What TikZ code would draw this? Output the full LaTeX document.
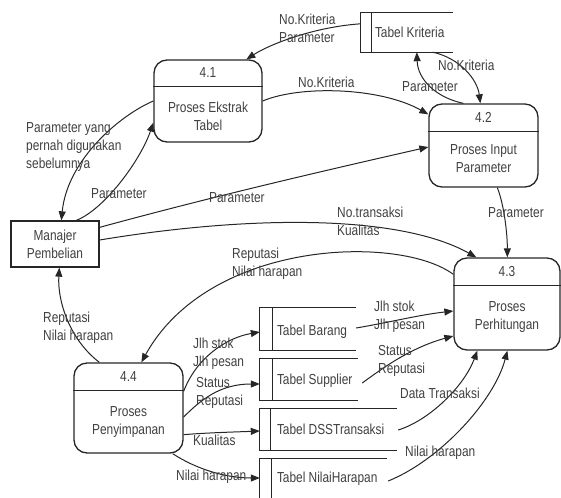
\documentclass[tikz,border=0pt]{standalone}
\usepackage{fontspec}
\newfontfamily\dfdfont[FakeStretch=0.82]{Liberation Sans}
\usetikzlibrary{arrows.meta,calc}
\definecolor{txt}{HTML}{404040}
\definecolor{ln}{HTML}{262626}
\begin{document}
\begin{tikzpicture}[x=1pt,y=-1pt,
  every node/.style={font=\dfdfont\fontsize{14.5}{18}\selectfont, text=txt},
  proc/.style={draw=ln, line width=1.3pt, rounded corners=13pt, inner sep=0pt},
  mgrbox/.style={draw=ln, line width=1.3pt, inner sep=0pt},
  storebox/.style={draw=none, inner sep=0pt},
  stline/.style={draw=ln, line width=1.3pt},
  lbl/.style={inner sep=0pt, align=left, anchor=west},
  ptext/.style={inner sep=0pt, align=center},
  flow/.style={draw=ln, line width=1pt, -{Triangle[length=9pt,width=7pt]}}]
\useasboundingbox (0,0) rectangle (561,497);
\clip (0,0) rectangle (561,497);

% processes
\node[proc, minimum width=108pt, minimum height=82pt] (p41) at (208,101) {};
\draw[stline] ($(p41.north west)+(0,27)$) -- ($(p41.north east)+(0,27)$);
\node[ptext] (p41id) at ($(p41.north)+(0,13)$) {4.1};
\node[ptext] (p41t) at ($(p41.center)+(0,15)$) {Proses Ekstrak\\Tabel};

\node[proc, minimum width=109pt, minimum height=83pt] (p42) at (483.5,145.5) {};
\draw[stline] ($(p42.north west)+(0,28)$) -- ($(p42.north east)+(0,28)$);
\node[ptext] (p42id) at ($(p42.north)+(0,14)$) {4.2};
\node[ptext] (p42t) at ($(p42.center)+(0,13.5)$) {Proses Input\\Parameter};

\node[proc, minimum width=106pt, minimum height=92pt] (p43) at (507,304) {};
\draw[stline] ($(p43.north west)+(0,28)$) -- ($(p43.north east)+(0,28)$);
\node[ptext] (p43id) at ($(p43.north)+(0,14)$) {4.3};
\node[ptext] (p43t) at ($(p43.center)+(0,13)$) {Proses\\Perhitungan};

\node[proc, minimum width=109pt, minimum height=90pt] (p44) at (128.5,408) {};
\draw[stline] ($(p44.north west)+(0,28)$) -- ($(p44.north east)+(0,28)$);
\node[ptext] (p44id) at ($(p44.north)+(0,14)$) {4.4};
\node[ptext] (p44t) at ($(p44.center)+(0,14)$) {Proses\\Penyimpanan};

% external entity
\node[mgrbox, minimum width=88pt, minimum height=46pt] (mgr) at (55,244) {};
\node[ptext] (mgrt) at (mgr.center) {Manajer\\Pembelian};

% data stores
\node[storebox, minimum width=92pt, minimum height=39pt] (sK) at (407,32.5) {};
\node[storebox, minimum width=96pt, minimum height=42pt] (sB) at (308,329) {};
\node[storebox, minimum width=98pt, minimum height=41pt] (sS) at (309,379.5) {};
\node[storebox, minimum width=137pt, minimum height=41pt] (sD) at (328.5,429.5) {};
\node[storebox, minimum width=127pt, minimum height=41pt] (sN) at (323.5,479.5) {};
\foreach \s/\b in {sK/11,sB/13,sS/13,sD/11,sN/12}{
  \draw[stline] (\s.north east) -- (\s.north west) -- (\s.south west) -- (\s.south east);
  \draw[stline] ($(\s.north west)+(\b,0)$) -- ($(\s.south west)+(\b,0)$);
}
\node[lbl] (sKt) at ($(sK.west)+(14,0)$) {Tabel Kriteria};
\node[lbl] (sBt) at ($(sB.west)+(17,3)$) {Tabel Barang};
\node[lbl] (sSt) at ($(sS.west)+(17,1)$) {Tabel Supplier};
\node[lbl] (sDt) at ($(sD.west)+(17,0)$) {Tabel DSSTransaksi};
\node[lbl] (sNt) at ($(sN.west)+(17,-1)$) {Tabel NilaiHarapan};

% flows
\draw[flow] ($(sK.north west)+(0,11)$) .. controls +(-45,3) and +(25,-16) .. ($(p41.north west)+(93,0)$);
\draw[flow] (p41.east) .. controls +(38,-16) and +(-48,-27) .. ($(p42.north west)+(0,11)$);
\draw[flow] ($(mgr.north east)+(0,7)$) .. controls +(110,-30) and +(-110,25) .. ($(p42.west)+(0,1.5)$);
\draw[flow] ($(mgr.north west)+(66,0)$) .. controls +(28,-11) and +(-13,38) .. ($(p41.south west)+(0,-20)$);
\draw[flow] (p41.west) .. controls +(-33,14) and +(6,-61) .. ($(mgr.north west)+(51,0)$);
\draw[flow] ($(sK.south west)+(72,0)$) .. controls +(27,6) and +(-3,-24) .. ($(p42.north west)+(52,0)$);
\draw[flow] ($(p42.north west)+(35,0)$) .. controls +(-28,-6) and +(1,27) .. ($(sK.south west)+(56,0)$);
\draw[flow] ($(p42.south west)+(69,0)$) .. controls +(7,18) and +(0,-23) .. ($(p43.north west)+(54,0)$);
\draw[flow] ($(mgr.east)+(0,-4)$) .. controls +(151,-25) and +(-77,-43) .. ($(p43.north west)+(23,0)$);
\draw[flow] ($(p43.north west)+(0,17)$) .. controls +(-54,-40) and +(68,-123) .. ($(p44.north west)+(68,0)$);
\draw[flow] ($(p44.north west)+(26,0)$) .. controls +(-30,-23) and +(-2,33) .. ($(mgr.south west)+(49,0)$);
\draw[flow] ($(p44.north east)+(0,29)$) .. controls +(12,-32) and +(-35,6) .. ($(sB.west)+(0,3)$);
\draw[flow] ($(p44.east)+(0,9)$) .. controls +(17,-17) and +(-40,0) .. ($(sS.west)+(0,4.5)$);
\draw[flow] ($(p44.south east)+(0,-19)$) .. controls +(25,-2) and +(-25,1) .. ($(sD.west)+(0,1.5)$);
\draw[flow] ($(p44.south east)+(-11,0)$) .. controls +(23,15) and +(-35,0) .. ($(sN.west)+(0,-1.5)$);
\draw[flow] ($(sB.east)+(0,-1)$) .. controls +(35,-6) and +(-35,4) .. ($(p43.west)+(0,7)$);
\draw[flow] ($(sS.east)+(4,3.5)$) .. controls +(18,-13) and +(-44,12) .. ($(p43.west)+(0,32)$);
\draw[flow] ($(sD.east)+(1,0.5)$) .. controls +(32,-10) and +(-13,35) .. ($(p43.south west)+(24,0)$);
\draw[flow] ($(sN.east)+(1,1.5)$) .. controls +(52,-21) and +(-13,50) .. ($(p43.south west)+(54,0)$);

% flow labels
\node[lbl] (l1) at (279,28) {No.Kriteria\\Parameter};
\node[lbl] (l2) at (298,82) {No.Kriteria};
\node[lbl] (l3) at (209,198) {Parameter};
\node[lbl] (l4) at (91,194) {Parameter};
\node[lbl] (l5) at (26,147) {Parameter yang\\pernah digunakan\\sebelumnya};
\node[lbl] (l6) at (438,65) {No.Kriteria};
\node[lbl] (l7) at (402,87) {Parameter};
\node[lbl] (l8) at (488,213) {Parameter};
\node[lbl] (l9) at (337,221.5) {No.transaksi\\Kualitas};
\node[lbl] (l10) at (232,263.5) {Reputasi\\Nilai harapan};
\node[lbl] (l11) at (43,327.5) {Reputasi\\Nilai harapan};
\node[lbl] (l12) at (193,353.5) {Jlh stok\\Jlh pesan};
\node[lbl] (l13) at (196,393) {Status\\Reputasi};
\node[lbl] (l14) at (193,440) {Kualitas};
\node[lbl] (l15) at (176,477) {Nilai harapan};
\node[lbl] (l16) at (374,316.5) {Jlh stok\\Jlh pesan};
\node[lbl] (l17) at (378,360.5) {Status\\Reputasi};
\node[lbl] (l18) at (400,393) {Data Transaksi};
\node[lbl] (l19) at (405,453) {Nilai harapan};
\end{tikzpicture}
\end{document}
